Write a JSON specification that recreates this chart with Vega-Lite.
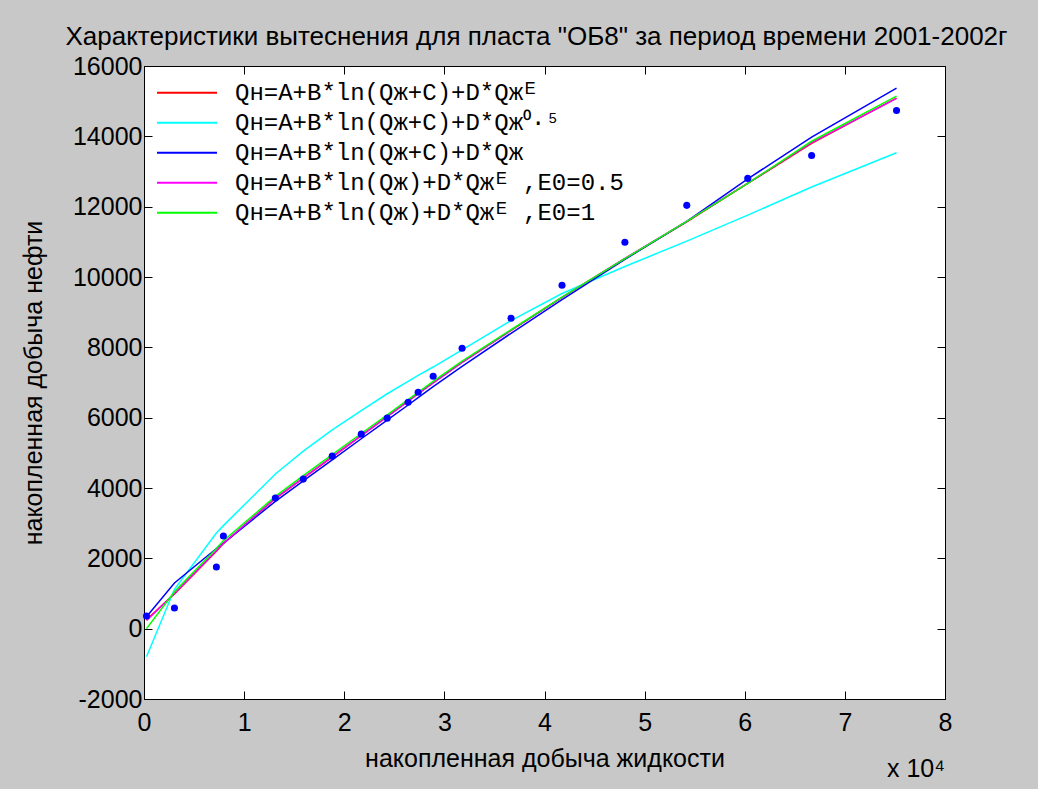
{
  "$schema": "https://vega.github.io/schema/vega-lite/v6.json",
  "width": 801,
  "height": 633,
  "autosize": "none",
  "padding": {"left": 144, "top": 66, "right": 93, "bottom": 90},
  "background": "#C8C8C8",
  "view": {"fill": "white", "stroke": "black", "strokeWidth": 1},
  "title": {
    "text": "Характеристики вытеснения для пласта \"ОБ8\" за период времени 2001-2002г",
    "font": "Liberation Sans",
    "fontSize": 26,
    "fontWeight": "normal",
    "color": "black",
    "anchor": "middle",
    "baseline": "alphabetic",
    "offset": 20,
    "dy": 37,
    "dx": -8
  },
  "datasets": {
    "obs": [
      {"x": 250, "y": 361},
      {"x": 3040, "y": 588},
      {"x": 7230, "y": 1753},
      {"x": 7930, "y": 2634},
      {"x": 13120, "y": 3713},
      {"x": 15910, "y": 4253},
      {"x": 18800, "y": 4906},
      {"x": 21700, "y": 5531},
      {"x": 24290, "y": 5986},
      {"x": 26380, "y": 6440},
      {"x": 27380, "y": 6724},
      {"x": 28880, "y": 7179},
      {"x": 31770, "y": 7974},
      {"x": 36660, "y": 8827},
      {"x": 41750, "y": 9764},
      {"x": 48030, "y": 10986},
      {"x": 54210, "y": 12037},
      {"x": 60300, "y": 12804},
      {"x": 66680, "y": 13457},
      {"x": 75160, "y": 14736}
    ],
    "fit": [
      {"x": 250, "r": 250, "c": -800, "b": 340, "m": 230, "g": 0},
      {"x": 3040, "r": 990, "c": 1120, "b": 1300, "m": 1000, "g": 1050},
      {"x": 7230, "r": 2200, "c": 2720, "b": 2280, "m": 2220, "g": 2280},
      {"x": 7930, "r": 2420, "c": 2930, "b": 2430, "m": 2430, "g": 2500},
      {"x": 13120, "r": 3700, "c": 4400, "b": 3620, "m": 3710, "g": 3760},
      {"x": 15910, "r": 4280, "c": 5050, "b": 4200, "m": 4290, "g": 4350},
      {"x": 18800, "r": 4880, "c": 5650, "b": 4800, "m": 4890, "g": 4950},
      {"x": 21700, "r": 5490, "c": 6200, "b": 5400, "m": 5490, "g": 5550},
      {"x": 24290, "r": 6030, "c": 6680, "b": 5930, "m": 6030, "g": 6080},
      {"x": 26380, "r": 6470, "c": 7030, "b": 6360, "m": 6470, "g": 6510},
      {"x": 27380, "r": 6680, "c": 7200, "b": 6570, "m": 6680, "g": 6720},
      {"x": 28880, "r": 6990, "c": 7440, "b": 6880, "m": 6990, "g": 7030},
      {"x": 31770, "r": 7570, "c": 7930, "b": 7460, "m": 7570, "g": 7610},
      {"x": 36660, "r": 8480, "c": 8760, "b": 8400, "m": 8480, "g": 8500},
      {"x": 41750, "r": 9420, "c": 9530, "b": 9360, "m": 9420, "g": 9430},
      {"x": 48030, "r": 10520, "c": 10300, "b": 10500, "m": 10530, "g": 10520},
      {"x": 54210, "r": 11570, "c": 11020, "b": 11580, "m": 11580, "g": 11580},
      {"x": 60300, "r": 12660, "c": 11760, "b": 12790, "m": 12670, "g": 12660},
      {"x": 66680, "r": 13800, "c": 12560, "b": 13980, "m": 13820, "g": 13860},
      {"x": 75160, "r": 15085, "c": 13534, "b": 15370, "m": 15080, "g": 15142}
    ]
  },
  "layer": [
    {
      "data": {"name": "fit"},
      "transform": [{"fold": ["r", "c", "b", "m", "g"], "as": ["s", "y"]}],
      "mark": {"type": "line", "strokeWidth": 1.5},
      "encoding": {
        "x": {
          "field": "x", "type": "quantitative",
          "scale": {"domain": [0, 80000], "nice": false, "zero": false},
          "axis": {
            "orient": "bottom",
            "values": [0, 10000, 20000, 30000, 40000, 50000, 60000, 70000, 80000],
            "labelExpr": "datum.value / 10000",
            "grid": false,
            "tickSize": -8, "tickColor": "black", "domainColor": "black",
            "labelFont": "Liberation Sans", "labelFontSize": 25, "labelColor": "black",
            "labelPadding": 19, "labelFlush": false,
            "title": "накопленная добыча жидкости",
            "titleFont": "Liberation Sans", "titleFontSize": 25, "titleFontWeight": "normal",
            "titleColor": "black", "titlePadding": 11
          }
        },
        "y": {
          "field": "y", "type": "quantitative",
          "scale": {"domain": [-2000, 16000], "nice": false, "zero": false},
          "axis": {
            "orient": "left",
            "values": [-2000, 0, 2000, 4000, 6000, 8000, 10000, 12000, 14000, 16000],
            "labelExpr": "datum.value + ''",
            "grid": false,
            "tickSize": -8, "tickColor": "black", "domainColor": "black",
            "labelFont": "Liberation Sans", "labelFontSize": 25, "labelColor": "black",
            "labelPadding": 10, "labelFlush": false,
            "title": "накопленная добыча нефти",
            "titleFont": "Liberation Sans", "titleFontSize": 25, "titleFontWeight": "normal",
            "titleColor": "black", "titlePadding": 26
          }
        },
        "color": {
          "field": "s", "type": "nominal",
          "scale": {"domain": ["r", "c", "b", "m", "g"], "range": ["#FF0000", "#00FFFF", "#0000FF", "#FF00FF", "#00FF00"]},
          "legend": {
            "title": null,
            "orient": "top-left",
            "offset": 8,
            "padding": 4,
            "symbolType": "stroke",
            "symbolSize": 3600,
            "symbolStrokeWidth": 2,
            "clipHeight": 29.5,
            "rowPadding": 0,
            "labelFont": "Liberation Mono",
            "labelFontSize": 24,
            "labelColor": "black",
            "labelLimit": 700,
            "labelOffset": 17,
            "labelExpr": "datum.label == 'r' ? 'Qн=A+B*ln(Qж+C)+D*Qжᴱ' : datum.label == 'c' ? 'Qн=A+B*ln(Qж+C)+D*Qж⁰·⁵' : datum.label == 'b' ? 'Qн=A+B*ln(Qж+C)+D*Qж' : datum.label == 'm' ? 'Qн=A+B*ln(Qж)+D*Qжᴱ ,E0=0.5' : 'Qн=A+B*ln(Qж)+D*Qжᴱ ,E0=1'"
          }
        }
      }
    },
    {
      "data": {"name": "obs"},
      "mark": {"type": "circle", "size": 50, "color": "#0000FF", "opacity": 1},
      "encoding": {
        "x": {
          "field": "x", "type": "quantitative",
          "axis": {
            "orient": "top",
            "values": [0, 10000, 20000, 30000, 40000, 50000, 60000, 70000, 80000],
            "labels": false, "domain": false, "grid": false, "title": null,
            "tickSize": -8, "tickColor": "black"
          }
        },
        "y": {
          "field": "y", "type": "quantitative",
          "axis": {
            "orient": "right",
            "values": [-2000, 0, 2000, 4000, 6000, 8000, 10000, 12000, 14000, 16000],
            "labels": false, "domain": false, "grid": false, "title": null,
            "tickSize": -8, "tickColor": "black"
          }
        }
      }
    },
    {
      "data": {"values": [{"t": "x 10⁴"}]},
      "mark": {"type": "text", "font": "Liberation Sans", "fontSize": 25, "color": "black", "align": "right", "baseline": "middle", "dy": 70},
      "encoding": {
        "x": {"datum": 80000, "type": "quantitative", "axis": null},
        "y": {"datum": -2000, "type": "quantitative", "axis": null},
        "text": {"field": "t"}
      }
    }
  ],
  "resolve": {"axis": {"x": "independent", "y": "independent"}}
}
